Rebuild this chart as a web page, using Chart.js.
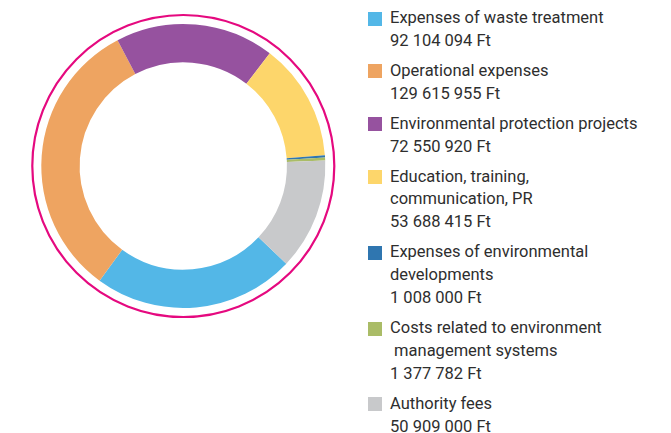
<!DOCTYPE html>
<html>
<head>
<meta charset="utf-8">
<script src="https://cdn.jsdelivr.net/npm/chart.js@4"></script>
<style>
  html, body { margin: 0; padding: 0; background: #fff; }
  body { width: 671px; height: 433px; position: relative; overflow: hidden; font-family: Roboto, "Liberation Sans", sans-serif; }
  #chartWrap { position: absolute; left: 0; top: 0; width: 367px; height: 332px; }
  #legend { position: absolute; left: 368px; top: 7px; width: 300px; color: #2e2e2e; font-size: 16.5px; line-height: 22.8px; }
  .item { position: relative; padding-left: 22px; margin-bottom: 7.3px; }
  .box { position: absolute; left: 0; top: 4.5px; width: 14px; height: 14px; }
  .line { white-space: pre; }
</style>
</head>
<body>
<div id="chartWrap"><canvas id="costChart" width="367" height="332"></canvas></div>
<div id="legend"></div>
<script>
// ================= Data =================
const categories = [
  ['Expenses of waste treatment'],
  ['Operational expenses'],
  ['Environmental protection projects'],
  ['Education, training,', 'communication, PR'],
  ['Expenses of environmental', 'developments'],
  ['Costs related to environment', ' management systems'],
  ['Authority fees']
];
const amounts = [92104094, 129615955, 72550920, 53688415, 1008000, 1377782, 50909000];
const amountLabels = ['92 104 094 Ft', '129 615 955 Ft', '72 550 920 Ft', '53 688 415 Ft', '1 008 000 Ft', '1 377 782 Ft', '50 909 000 Ft'];
const colors = ['#53B7E7', '#EEA461', '#96529F', '#FDD66B', '#2F76B0', '#AABC67', '#C8C9CB'];

// magenta ring around the doughnut
const outerRing = {
  id: 'outerRing',
  afterDraw(chart) {
    const arc = chart.getDatasetMeta(0).data[0];
    if (!arc) return;
    const ctx = chart.ctx;
    ctx.save();
    ctx.beginPath();
    ctx.arc(arc.x, arc.y, arc.outerRadius + 9, 0, Math.PI * 2);
    ctx.strokeStyle = '#E5097F';
    ctx.lineWidth = 2.2;
    ctx.stroke();
    ctx.restore();
  }
};

function buildLegend() {
  const legend = document.getElementById('legend');
  categories.forEach((lines, i) => {
    const item = document.createElement('div');
    item.className = 'item';
    const box = document.createElement('span');
    box.className = 'box';
    box.style.background = colors[i];
    item.appendChild(box);
    lines.concat([amountLabels[i]]).forEach(t => {
      const d = document.createElement('div');
      d.className = 'line';
      d.textContent = t;
      item.appendChild(d);
    });
    legend.appendChild(item);
  });
}

function initializeChart() {
  const ctx = document.getElementById('costChart').getContext('2d');
  new Chart(ctx, {
    type: 'doughnut',
    data: {
      labels: categories.map(l => l.join(' ').replace(/\s+/g, ' ')),
      datasets: [{
        data: amounts,
        backgroundColor: colors,
        borderWidth: 0,
        hoverOffset: 0
      }]
    },
    options: {
      responsive: false,
      animation: false,
      cutout: '73%',
      rotation: 133.5,
      layout: { padding: { left: 41.3, right: 41.7, top: 24, bottom: 24 } },
      plugins: {
        legend: { display: false },
        tooltip: { enabled: false }
      }
    },
    plugins: [outerRing]
  });
}

buildLegend();
initializeChart();
</script>
</body>
</html>
